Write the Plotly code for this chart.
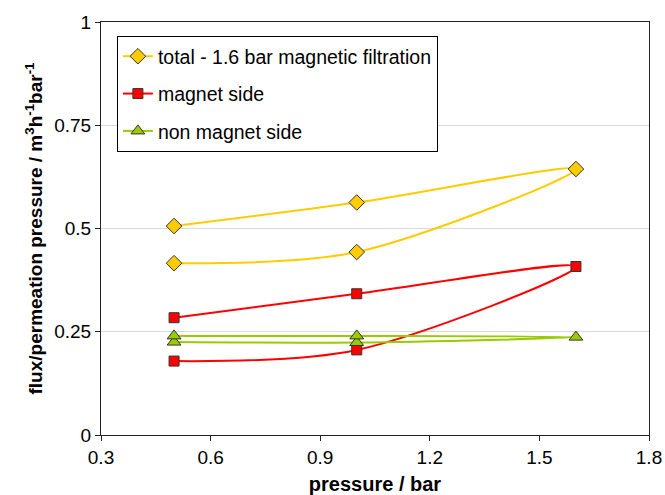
import plotly.graph_objects as go

# Each series is measured going up in pressure, then back down (hysteresis loop)
pressure = [0.5, 1.0, 1.6, 1.0, 0.5]
total_flux = [0.416, 0.443, 0.644, 0.563, 0.506]
magnet_flux = [0.179, 0.206, 0.408, 0.342, 0.284]
non_magnet_flux = [0.225, 0.224, 0.237, 0.240, 0.240]

series_names = ["total - 1.6 bar magnetic filtration", "magnet side", "non magnet side"]
series_values = [total_flux, magnet_flux, non_magnet_flux]
line_colors = ["#FFCC00", "#FF0000", "#99CC00"]
marker_symbols = ["diamond", "square", "triangle-up"]
marker_sizes = [12, 10, 12]

y_ticks = [0, 0.25, 0.5, 0.75, 1]
y_tick_text = ["0", "0.25", "0.5", "0.75", "1"]
x_ticks = [0.3, 0.6, 0.9, 1.2, 1.5, 1.8]

fig = go.Figure()
for i, (name, vals) in enumerate(zip(series_names, series_values)):
    fig.add_trace(go.Scatter(
        x=pressure, y=vals, name=name, mode="lines+markers",
        legendgroup=f"g{i}",
        line=dict(color=line_colors[i], width=2, shape="spline", smoothing=0.9),
        marker=dict(symbol=marker_symbols[i], size=marker_sizes[i],
                    color=line_colors[i], line=dict(color="#333333", width=1)),
    ))

font_family = "Liberation Sans, Arial, sans-serif"
fig.update_layout(
    width=665, height=495,
    margin=dict(l=101, r=16, t=22, b=60),
    paper_bgcolor="white", plot_bgcolor="white",
    font=dict(family=font_family, size=19, color="black"),
    showlegend=True,
    legend=dict(
        x=0.029, y=0.966, xanchor="left", yanchor="top",
        bgcolor="white", bordercolor="black", borderwidth=1,
        font=dict(size=19.5, family=font_family),
        traceorder="grouped", tracegroupgap=9,
    ),
    xaxis=dict(
        range=[0.3, 1.8], tickvals=x_ticks, tickformat=".1f",
        showgrid=False, zeroline=False, automargin=False,
        showline=True, mirror=True, linecolor="#222222", linewidth=1,
        ticks="outside", ticklen=5, tickcolor="#222222",
        tickfont=dict(size=19),
        title=dict(text="<b>pressure / bar</b>", standoff=10, font=dict(size=20)),
    ),
    yaxis=dict(
        range=[0, 1], tickvals=y_ticks, ticktext=y_tick_text,
        showgrid=True, gridcolor="#d9d9d9", gridwidth=1, zeroline=False,
        automargin=False,
        showline=True, mirror=True, linecolor="#222222", linewidth=1,
        ticks="outside", ticklen=5, tickcolor="#222222",
        tickfont=dict(size=19),
        title=dict(text="<b>flux/permeation pressure / m<sup>3</sup>h<sup>-1</sup>bar<sup>-1</sup></b>",
                   standoff=6, font=dict(size=19)),
    ),
)

fig.write_html("out.html")
